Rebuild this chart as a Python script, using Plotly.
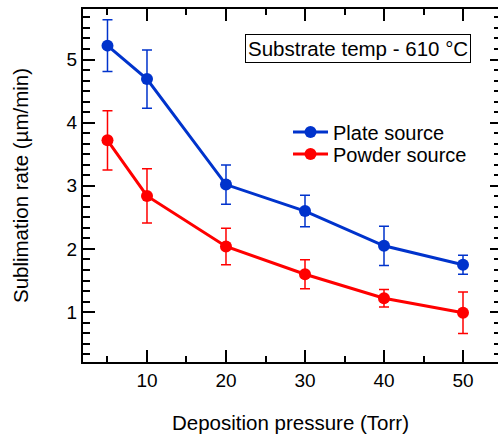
import plotly.graph_objects as go

pressure = [5, 10, 20, 30, 40, 50]
plate_rate = [5.22, 4.69, 3.02, 2.60, 2.05, 1.75]
plate_err = [0.41, 0.46, 0.31, 0.25, 0.31, 0.15]
powder_rate = [3.72, 2.84, 2.04, 1.60, 1.22, 0.99]
powder_err = [0.47, 0.43, 0.29, 0.23, 0.14, 0.33]
x_ticks = [10, 20, 30, 40, 50]
y_ticks = [1, 2, 3, 4, 5]

BLUE = "#0033cc"
RED = "#ff0000"
FONT = "Liberation Sans, Arial, sans-serif"
TXT = 20.5

fig = go.Figure()
fig.add_trace(go.Scatter(
    x=pressure, y=plate_rate, name="Plate source", mode="lines+markers",
    line=dict(color=BLUE, width=3), marker=dict(color=BLUE, size=12),
    error_y=dict(type="data", array=plate_err, color=BLUE, thickness=1.5, width=5),
    legend="legend",
))
fig.add_trace(go.Scatter(
    x=pressure, y=powder_rate, name="Powder source", mode="lines+markers",
    line=dict(color=RED, width=3), marker=dict(color=RED, size=12),
    error_y=dict(type="data", array=powder_err, color=RED, thickness=1.5, width=5),
    legend="legend2",
))
# dummy trace to anchor the right-hand tick axis
fig.add_trace(go.Scatter(x=[None], y=[None], yaxis="y2", showlegend=False, hoverinfo="skip"))

YR = [0.21, 5.8]
leg_common = dict(xanchor="left", yanchor="middle", bgcolor="rgba(0,0,0,0)",
                  font=dict(size=20), borderwidth=0, itemwidth=35)
fig.update_layout(
    width=498, height=434,
    margin=dict(l=83, r=0, t=9, b=72),
    paper_bgcolor="white", plot_bgcolor="white",
    font=dict(family=FONT, size=TXT, color="black"),
    showlegend=True,
    legend=dict(x=0.494, y=(362 - 132) / 353, **leg_common),
    legend2=dict(x=0.494, y=(362 - 154) / 353, **leg_common),
    xaxis=dict(
        range=[1.9, 54.43], tickvals=x_ticks, ticks="inside", ticklen=12, tickwidth=2,
        tickcolor="black", showline=True, linewidth=2, linecolor="black", mirror="ticks",
        showgrid=False, zeroline=False,
        minor=dict(dtick=5, tick0=0, ticks="inside", ticklen=6, tickwidth=2, tickcolor="black", showgrid=False),
        title=dict(text="Deposition pressure (Torr)", font=dict(size=TXT), standoff=29),
        tickfont=dict(size=19),
    ),
    yaxis=dict(
        range=YR, tickvals=y_ticks, ticks="inside", ticklen=12, tickwidth=2,
        tickcolor="black", showline=True, linewidth=2, linecolor="black", mirror=False,
        showgrid=False, zeroline=False,
        minor=dict(dtick=1/6, tick0=0, ticks="inside", ticklen=7, tickwidth=2, tickcolor="black", showgrid=False),
        title=dict(text="Sublimation rate (µm/min)", font=dict(size=TXT), standoff=32),
        tickfont=dict(size=19),
    ),
    yaxis2=dict(
        range=YR, overlaying="y", side="right", tickvals=y_ticks, ticks="inside",
        ticklen=8, tickwidth=2, tickcolor="black", showline=False, showgrid=False,
        zeroline=False, showticklabels=False,
        minor=dict(dtick=1/6, tick0=0, ticks="inside", ticklen=4, tickwidth=2, tickcolor="black", showgrid=False),
    ),
    annotations=[dict(
        text="Substrate temp - 610 °C", xref="paper", yref="paper",
        x=0.663, y=0.887, xanchor="center", yanchor="middle", showarrow=False,
        font=dict(size=TXT, color="black"), bordercolor="black", borderwidth=1,
        borderpad=2, bgcolor="white",
    )],
)

fig.write_html("out.html")
